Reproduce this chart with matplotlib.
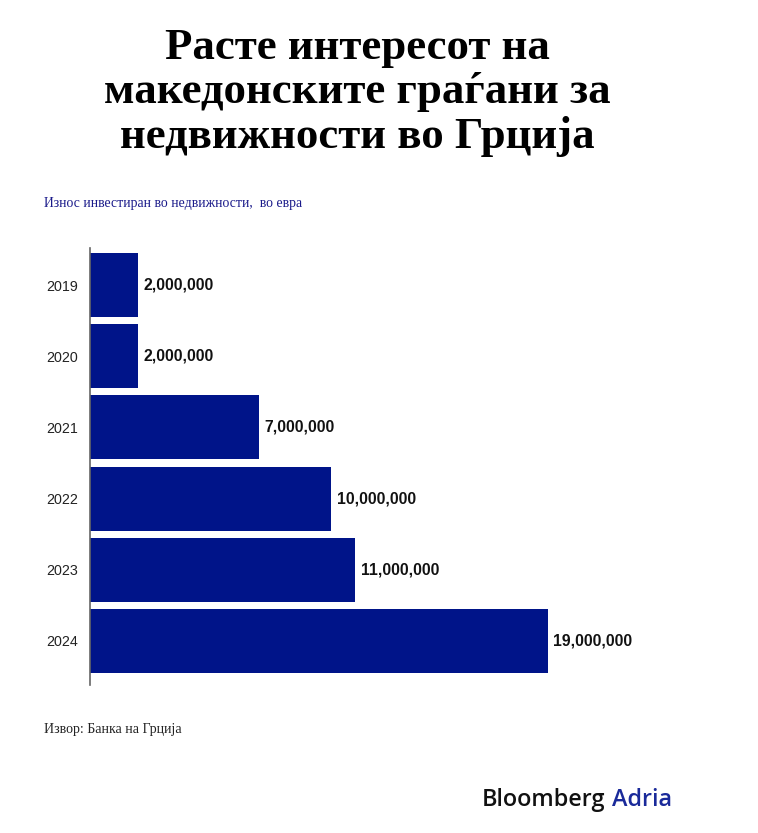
import matplotlib
matplotlib.use("Agg")
import matplotlib.pyplot as plt
from matplotlib.ticker import NullLocator

# ── data ─────────────────────────────────────────────────────────────────────
years = ["2019", "2020", "2021", "2022", "2023", "2024"]
amounts = [2_000_000, 2_000_000, 7_000_000, 10_000_000, 11_000_000, 19_000_000]

title = "Расте интересот на\nмакедонските граѓани за\nнедвижности во Грција"
subtitle = "Износ инвестиран во недвижности,  во евра"
source = "Извор: Банка на Грција"

BAR = "#001489"

W, H = 758, 833
fig = plt.figure(figsize=(W / 100, H / 100), dpi=100)

# axes placed in pixel coordinates: left 90, top 248, bottom 685
left, right, top, bottom = 90, 740, 248, 685
ax = fig.add_axes([left / W, 1 - bottom / H, (right - left) / W, (bottom - top) / H])

ypos = list(range(len(years)))
ax.barh(ypos, amounts, height=0.9, color=BAR, edgecolor="none")
ax.set_xlim(0, (right - left) / 24.1 * 1e6)
ax.set_ylim(5.62, -0.52)

for y, v in zip(ypos, amounts):
    ax.annotate(f"{v:,}", (v, y), xytext=(4, 0), textcoords="offset points",
                ha="left", va="center", fontsize=11.3, fontweight="bold",
                family="Liberation Sans", color="#111111")

ax.set_yticks(ypos)
ax.set_yticklabels(years, family="Liberation Sans", fontsize=10.3, color="#222222")
ax.tick_params(axis="y", length=0, pad=8.5)
ax.xaxis.set_major_locator(NullLocator())
for s in ("top", "right", "bottom"):
    ax.spines[s].set_visible(False)
ax.spines["left"].set_color("#666666")
ax.spines["left"].set_linewidth(1.2)

# ── texts ────────────────────────────────────────────────────────────────────
fig.text(357 / W, 1 - 28 / H, title, ha="center", va="top", fontsize=32.3,
         fontweight="bold", family="Liberation Serif", linespacing=1.13,
         color="black")
fig.text(44 / W, 1 - 203 / H, subtitle, ha="left", va="center", fontsize=9.9,
         family="Liberation Serif", color="#1a1a8a")
fig.text(44 / W, 1 - 730 / H, source, ha="left", va="center", fontsize=10,
         family="Liberation Serif", color="#222222")

t1 = fig.text(482 / W, 1 - 800 / H, "Bloomberg", ha="left", va="center",
              fontsize=16.8, family="Open Sans", fontweight="semibold",
              color="#111111")
fig.canvas.draw()
bb = t1.get_window_extent()
fig.text((bb.x1 + 6) / W, 1 - 800 / H, "Adria", ha="left", va="center",
         fontsize=16.8, family="Open Sans", fontweight="semibold",
         color="#1a2a9a")

fig.savefig("out.png", dpi=100)
plt.close(fig)
